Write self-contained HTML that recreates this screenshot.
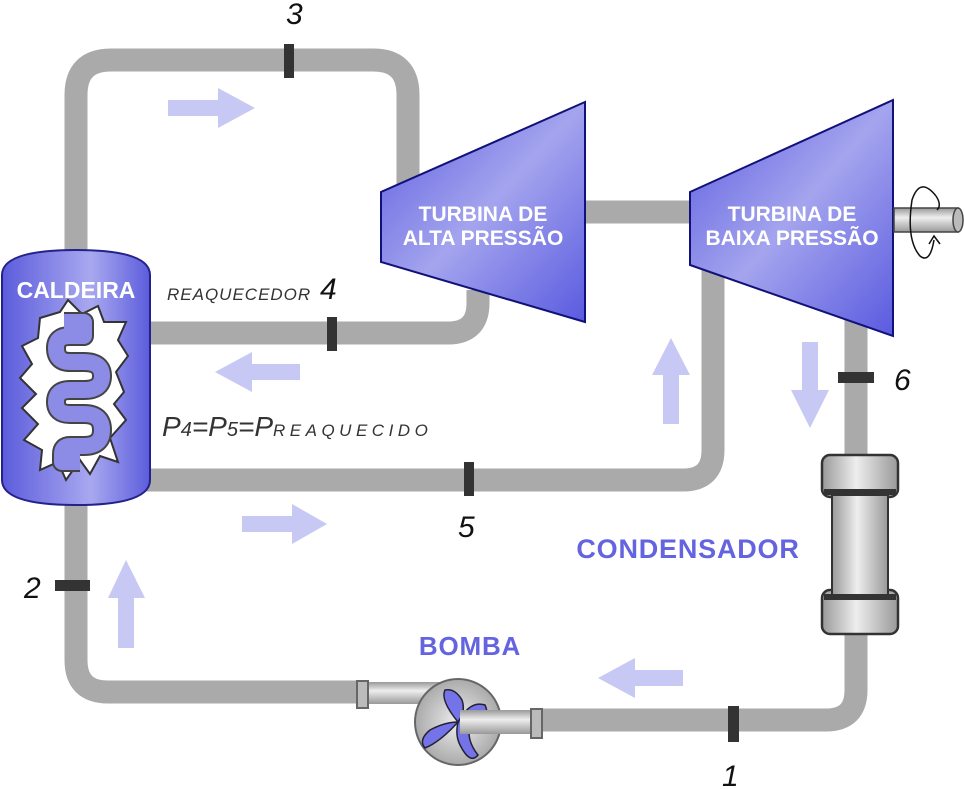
<!DOCTYPE html>
<html><head><meta charset="utf-8"><style>
html,body{margin:0;padding:0;background:#fff;width:965px;height:789px;overflow:hidden}
svg{display:block}
text{font-family:"Liberation Sans",sans-serif}
</style></head><body>
<svg width="965" height="789" viewBox="0 0 965 789" xmlns="http://www.w3.org/2000/svg">
<defs>
<linearGradient id="tb" x1="0" y1="0" x2="1" y2="1">
<stop offset="0" stop-color="#5a5ae0"/><stop offset="0.5" stop-color="#a4a4ee"/><stop offset="1" stop-color="#5a5ae0"/></linearGradient>
<linearGradient id="bo" x1="0" y1="0" x2="1" y2="0">
<stop offset="0" stop-color="#5c5cdc"/><stop offset="0.6" stop-color="#a8a8f0"/><stop offset="1" stop-color="#5c5cdc"/></linearGradient>
<linearGradient id="cy" x1="0" y1="0" x2="1" y2="0">
<stop offset="0" stop-color="#999"/><stop offset="0.45" stop-color="#eee"/><stop offset="1" stop-color="#999"/></linearGradient>
<linearGradient id="cyv" x1="0" y1="0" x2="0" y2="1">
<stop offset="0" stop-color="#999"/><stop offset="0.4" stop-color="#eee"/><stop offset="1" stop-color="#999"/></linearGradient>
<radialGradient id="pm"><stop offset="0" stop-color="#eee"/><stop offset="1" stop-color="#aaa"/></radialGradient>
</defs>
<g fill="none" stroke="#aaa" stroke-width="23">
<path d="M76 255 V95 Q76 60 111 60 H373 Q408 60 408 95 V200"/>
<path d="M478 290 V303 Q478 333 448 333 H140"/>
<path d="M140 480 H683 Q713 480 713 450 V260"/>
<path d="M580 212 H695"/>
<path d="M856 320 V460"/>
<path d="M856 630 V690 Q856 720 826 720 H530"/>
<path d="M365 692 H108 Q76 692 76 660 V500"/>
</g>
<!-- boiler -->
<path d="M2 275 Q2 250 76 250 Q150 250 150 275 V480 Q150 505 76 505 Q2 505 2 480 Z" fill="url(#bo)" stroke="#22228a" stroke-width="2"/>
<text x="76" y="298" font-size="23" font-weight="bold" fill="#fff" text-anchor="middle">CALDEIRA</text>
<path d="M40 318 L60 312 L68 300 L82 314 L98 306 L104 322 L126 322 L118 340 L128 356 L116 372 L124 392 L114 404 L126 420 L110 438 L118 462 L100 456 L90 474 L80 460 L66 480 L58 462 L40 470 L42 450 L24 440 L38 424 L22 408 L36 394 L20 378 L32 364 L22 346 L38 338 Z" fill="#fff" stroke="#333" stroke-width="2"/>
<path d="M64 322 H84 V336 H70 Q56 336 56 348 Q56 362 70 362 H84 Q102 362 102 376 Q102 390 84 390 H70 Q56 390 56 402 Q56 414 70 414 H84 Q102 414 102 430 Q102 446 84 446 H70 Q62 446 62 454 V462 H80" fill="none" stroke="#444" stroke-width="20" stroke-linejoin="round"/>
<path d="M64 322 H84 V336 H70 Q56 336 56 348 Q56 362 70 362 H84 Q102 362 102 376 Q102 390 84 390 H70 Q56 390 56 402 Q56 414 70 414 H84 Q102 414 102 430 Q102 446 84 446 H70 Q62 446 62 454 V462 H80" fill="none" stroke="#8c8ce6" stroke-width="16" stroke-linejoin="round"/>
<!-- turbines -->
<polygon points="381,192 585,102 585,322 381,262" fill="url(#tb)" stroke="#11117a" stroke-width="2"/>
<polygon points="690,192 893,100 893,336 690,265" fill="url(#tb)" stroke="#11117a" stroke-width="2"/>
<g font-size="21" font-weight="bold" fill="#fff" text-anchor="middle">
<text x="483" y="221">TURBINA DE</text><text x="483" y="245">ALTA PRESSÃO</text>
<text x="792" y="221">TURBINA DE</text><text x="792" y="245">BAIXA PRESSÃO</text>
</g>
<!-- shaft -->
<rect x="894" y="208" width="64" height="24" fill="url(#cyv)" stroke="#444" stroke-width="1.5"/>
<ellipse cx="958" cy="220" rx="5" ry="12" fill="#bbb" stroke="#444" stroke-width="1.5"/>
<path d="M936 196 Q920 176 912 200 Q906 240 920 256 Q930 264 934 240" fill="none" stroke="#111" stroke-width="1.5"/>
<path d="M936 196 Q942 205 937 210" fill="none" stroke="#111" stroke-width="1.5"/>
<path d="M929 244 L934 236 L940 244" fill="none" stroke="#111" stroke-width="1.5"/>
<!-- condenser -->
<rect x="822" y="455" width="76" height="42" rx="8" fill="url(#cy)" stroke="#333" stroke-width="2.5"/>
<rect x="822" y="590" width="76" height="44" rx="8" fill="url(#cy)" stroke="#333" stroke-width="2.5"/>
<rect x="824" y="489" width="72" height="6" fill="#333"/>
<rect x="824" y="594" width="72" height="6" fill="#333"/>
<rect x="832" y="495" width="56" height="100" fill="url(#cy)" stroke="#333" stroke-width="2"/>
<text x="688" y="558" font-size="27" font-weight="bold" fill="#6464e0" text-anchor="middle" letter-spacing="0.8">CONDENSADOR</text>
<!-- pump -->
<rect x="362" y="682" width="90" height="22" fill="url(#cyv)"/>
<rect x="357" y="681" width="11" height="27" fill="#bbb" stroke="#666" stroke-width="2"/>
<circle cx="458" cy="722" r="43" fill="url(#pm)" stroke="#666" stroke-width="2"/>
<path d="M458 722 Q440 700 445 690 Q455 688 462 700 Q466 712 458 722 Q470 700 485 705 Q492 720 470 725 Q466 740 478 755 Q470 765 460 745 Q455 735 458 722 Q440 742 425 748 Q418 740 430 730 Q445 722 458 722Z" fill="#7474e8" stroke="#223" stroke-width="1.5"/>
<rect x="460" y="710" width="80" height="24" fill="url(#cyv)"/>
<rect x="531" y="709" width="11" height="29" fill="#bbb" stroke="#666" stroke-width="2"/>
<text x="470" y="655" font-size="26" font-weight="bold" fill="#6464e0" text-anchor="middle" letter-spacing="0.8">BOMBA</text>
<!-- ticks -->
<g fill="#333">
<rect x="284" y="44" width="10" height="34"/>
<rect x="327" y="317" width="10" height="34"/>
<rect x="464" y="462" width="10" height="34"/>
<rect x="838" y="372" width="36" height="11"/>
<rect x="55" y="580" width="35" height="11"/>
<rect x="728" y="706" width="11" height="36"/>
</g>
<g font-size="30" font-style="italic" fill="#111">
<text x="286" y="24">3</text><text x="320" y="299">4</text><text x="458" y="537">5</text>
<text x="894" y="390">6</text><text x="24" y="598">2</text><text x="722" y="786">1</text>
</g>
<text x="167" y="300" font-size="17" font-style="italic" fill="#333" letter-spacing="1">REAQUECEDOR</text>
<text x="162" y="436" font-style="italic" fill="#333"><tspan font-size="28">P</tspan><tspan font-size="20">4</tspan><tspan font-size="28">=P</tspan><tspan font-size="20">5</tspan><tspan font-size="28">=P</tspan><tspan font-size="17" letter-spacing="4.5">REAQUECIDO</tspan></text>
<!-- flow arrows -->
<g fill="#c8c8f4">
<polygon points="168,100 218,100 218,88 255,108 218,128 218,116 168,116"/>
<polygon points="300,364 252,364 252,352 215,372 252,392 252,380 300,380"/>
<polygon points="242,516 292,516 292,504 327,524 292,544 292,532 242,532"/>
<polygon points="118,648 118,598 108,598 126,560 145,598 134,598 134,648"/>
<polygon points="663,424 663,375 652,375 671,338 690,375 679,375 679,424"/>
<polygon points="802,342 802,390 791,390 810,428 829,390 818,390 818,342"/>
<polygon points="683,670 635,670 635,658 598,678 635,698 635,686 683,686"/>
</g>
</svg>
</body></html>
